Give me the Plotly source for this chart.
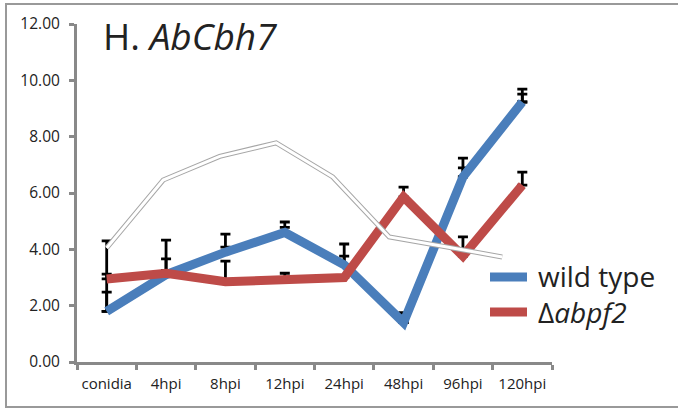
import plotly.graph_objects as go

categories = ["conidia", "4hpi", "8hpi", "12hpi", "24hpi", "48hpi", "96hpi", "120hpi"]
wild_type = [1.80, 3.10, 3.90, 4.60, 3.45, 1.40, 6.57, 9.23]
wt_err_a = [0.68, 0.56, 0.18, 0.18, 0.31, 0.34, 0.32, 0.28]
wt_err_b = [1.32, 1.23, 0.64, 0.37, 0.74, 0.34, 0.67, 0.46]
abpf2 = [2.95, 3.15, 2.85, 2.95, 3.00, 5.86, 3.76, 6.28]
abpf2_err = [1.35, 0.10, 0.73, 0.20, 0.05, 0.35, 0.68, 0.46]
ghost = [4.05, 6.46, 7.30, 7.78, 6.57, 4.44, 4.09, 3.73]
y_ticks = [0, 2, 4, 6, 8, 10, 12]

BLUE = "#4A7EBB"
RED = "#BE4B48"
AXIS = "#898989"
TXT = "#222222"
FONT = "Open Sans"

fig = go.Figure()

def err(arr):
    return dict(type="data", symmetric=False, array=arr, arrayminus=[0] * len(arr),
                color="black", thickness=2.8, width=5)

# error bars (drawn beneath the lines)
for vals, e in [(wild_type, wt_err_a), (wild_type, wt_err_b), (abpf2, abpf2_err)]:
    fig.add_trace(go.Scatter(x=categories, y=vals, mode="markers",
                             marker=dict(size=1, color="rgba(0,0,0,0)"),
                             error_y=err(e), showlegend=False, hoverinfo="skip"))

# hollow grey line on its own (slightly compressed) category axis
fig.add_trace(go.Scatter(x=categories, y=ghost, xaxis="x2", mode="lines",
                         line=dict(color="#A6A6A6", width=5), showlegend=False))
fig.add_trace(go.Scatter(x=categories, y=ghost, xaxis="x2", mode="lines",
                         line=dict(color="white", width=3), showlegend=False))

fig.add_trace(go.Scatter(x=categories, y=wild_type, mode="lines", name="wild type",
                         line=dict(color=BLUE, width=9), showlegend=False))
fig.add_trace(go.Scatter(x=categories, y=abpf2, mode="lines", name="Δabpf2",
                         line=dict(color=RED, width=9), showlegend=False))

L, R, T, B = 77, 126, 24, 51
W, H = 678, 413
pw, ph = W - L - R, H - T - B

def px(x):
    return (x - L) / pw

def py(y):
    return (H - B - y) / ph

shapes = [
    dict(type="rect", xref="paper", yref="paper", x0=px(6), x1=px(700), y0=py(407), y1=py(4),
         line=dict(color="#999999", width=2), layer="below"),
    dict(type="line", xref="paper", yref="paper", x0=px(490), x1=px(527), y0=py(277), y1=py(277),
         line=dict(color=BLUE, width=9)),
    dict(type="line", xref="paper", yref="paper", x0=px(490), x1=px(527), y0=py(312), y1=py(312),
         line=dict(color=RED, width=9)),
]

annotations = [
    dict(text="H. <i>AbCbh7</i>", xref="paper", yref="paper", x=px(101), y=py(35),
         xanchor="left", yanchor="middle", showarrow=False,
         font=dict(family=FONT, size=37, color=TXT)),
    dict(text="wild type", xref="paper", yref="paper", x=px(536), y=py(276),
         xanchor="left", yanchor="middle", showarrow=False,
         font=dict(family=FONT, size=28, color=TXT)),
    dict(text="Δ<i>abpf2</i>", xref="paper", yref="paper", x=px(536), y=py(312),
         xanchor="left", yanchor="middle", showarrow=False,
         font=dict(family=FONT, size=28, color=TXT)),
]

n = len(categories)
# grey line category spacing ~56.5px starting at conidia centre
c0 = L + pw / n / 2
sp = 56.5
x2_range = [(L - c0) / sp, (L + pw - c0) / sp]

fig.update_layout(
    width=W, height=H,
    margin=dict(l=L, r=R, t=T, b=B, pad=0),
    paper_bgcolor="white", plot_bgcolor="white",
    showlegend=False,
    shapes=shapes, annotations=annotations,
    xaxis=dict(type="category", categoryorder="array", categoryarray=categories,
               range=[-0.5, n - 0.5], showline=True, linewidth=3, linecolor=AXIS,
               ticks="outside", tickson="boundaries", ticklen=5, tickwidth=3, tickcolor=AXIS,
               showgrid=False, zeroline=False, ticklabelstandoff=6, tickangle=0,
               automargin=False,
               tickfont=dict(family=FONT, size=15, color=TXT)),
    xaxis2=dict(type="category", categoryorder="array", categoryarray=categories,
                overlaying="x", range=x2_range, visible=False),
    yaxis=dict(range=[0, 12], tickvals=y_ticks, tickformat=".2f",
               showline=True, linewidth=3, linecolor=AXIS,
               ticks="outside", ticklen=5, tickwidth=3, tickcolor=AXIS,
               showgrid=False, zeroline=False, ticklabelstandoff=6, automargin=False,
               tickfont=dict(family=FONT, size=15.5, color=TXT)),
    font=dict(family=FONT, color=TXT),
)

fig.write_html("out.html")
